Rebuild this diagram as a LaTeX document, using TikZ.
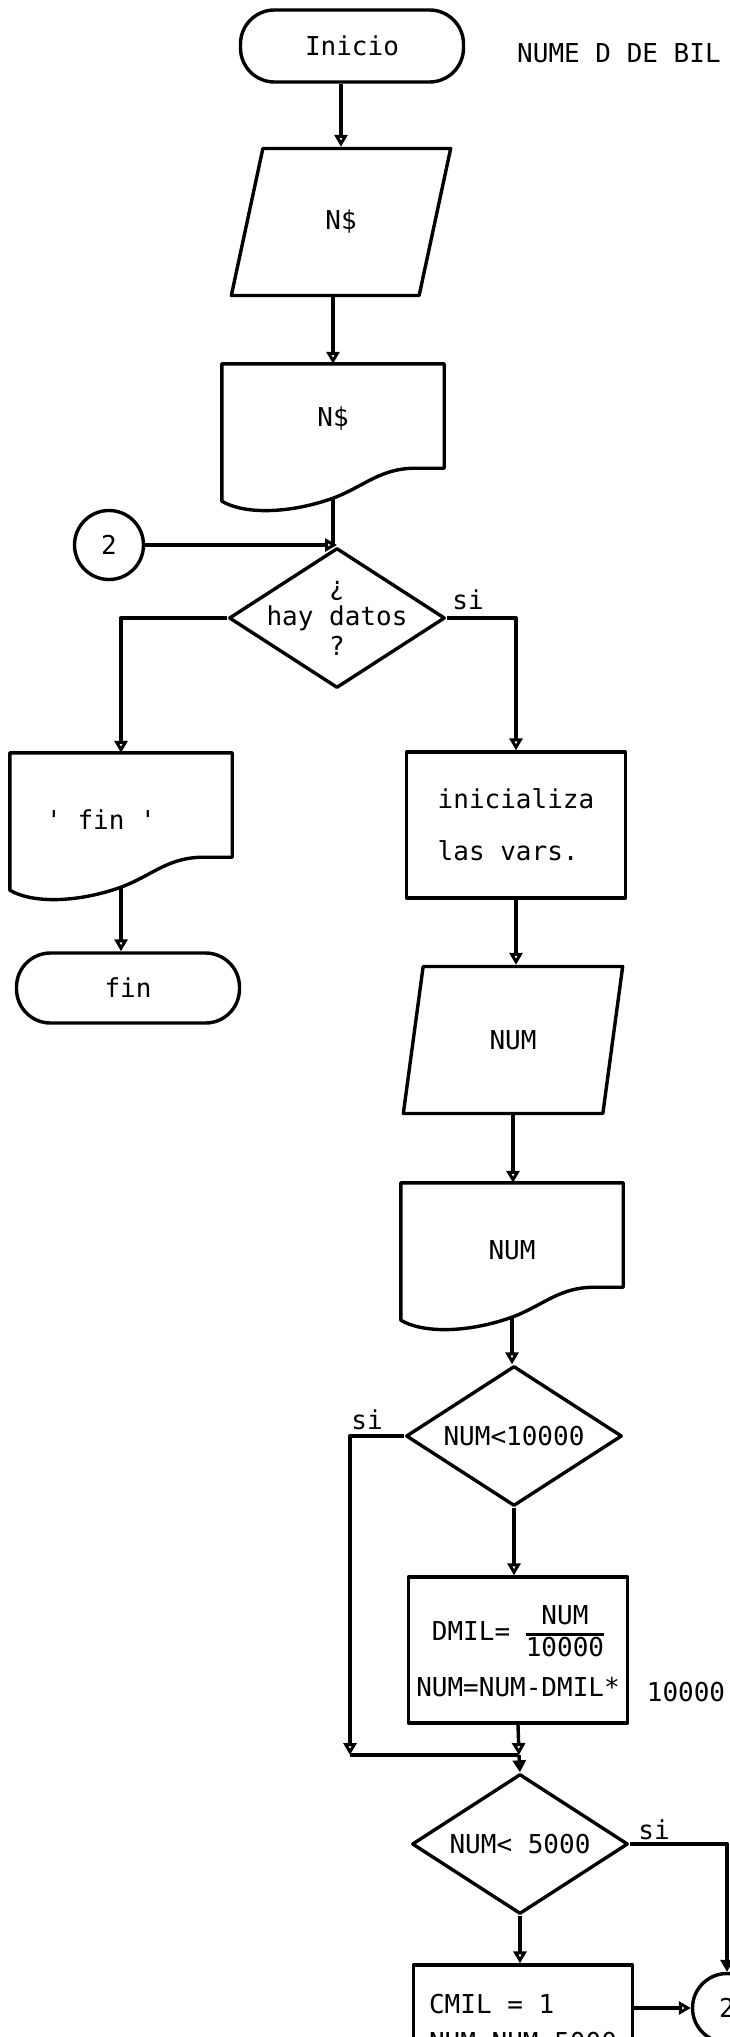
\documentclass[tikz,border=0pt]{standalone}
\usepackage{fontspec}
\setmonofont{DejaVu Sans Mono}
\usetikzlibrary{shapes.geometric, arrows.meta}
\setlength{\arrayrulewidth}{2.5pt}

% wavy bottom of a document box
\newcommand{\docwave}[1]{%
  \draw[ln] (#1.north west) -- (#1.north east) -- ([yshift=30pt]#1.south east)
    -- ([xshift=194pt,yshift=30pt]#1.south west)
    .. controls ([xshift=158pt,yshift=30pt]#1.south west) and ([xshift=143pt,yshift=12pt]#1.south west) .. (#1.south)
    .. controls ([xshift=66pt,yshift=-16pt]#1.south west) and ([xshift=22pt,yshift=-16pt]#1.south west) .. ([yshift=-3pt]#1.south west)
    -- cycle;}

\begin{document}
\begin{tikzpicture}[
    x=1pt, y=1pt,
    ln/.style={line width=3.4pt, line join=round},
    txt/.style={font=\ttfamily\fontsize{26}{30}\selectfont, inner sep=0pt},
    term/.style={txt, ln, draw, rounded corners=34pt, minimum width=223pt, minimum height=72pt},
    io/.style={txt, ln, draw, trapezium, trapezium left angle=75, trapezium right angle=105, trapezium stretches=true, minimum width=220pt, minimum height=147pt},
    doc/.style={txt, minimum width=222pt, minimum height=134pt},
    proc/.style={txt, ln, draw, minimum width=219pt, minimum height=146pt},
    dec/.style={txt, ln, draw, diamond, aspect=1.55, minimum width=216pt, minimum height=140pt},
    conn/.style={txt, ln, draw, circle, minimum size=69pt},
    arr/.style={ln, -{Triangle[open, length=12pt, width=13pt]}},
    arrf/.style={ln, -{Triangle[length=12pt, width=13pt]}},
]
\useasboundingbox (0,0) rectangle (730,-2037);

% Start
\node[term] (ini) at (352,-46) {Inicio};
\node[txt, anchor=west] (title) at (517,-53) {NUME D DE BIL};

\node[io] (ns1) at (341,-222) {N\$};
\node[doc, text depth=28pt] (doc1) at (333,-431) {N\$};
\docwave{doc1}

% Question
\node[conn] (c1) at (109,-545) {2};
\node[dec, label={[txt, align=center]center:{¿\\hay datos\\?}}] (d1) at (337,-618) {};
\node[txt] (si1) at (468,-600) {si};

% End branch
\node[doc] (fin1) at (121,-820) {' fin '\hspace*{40pt}};
\docwave{fin1}
\node[term, minimum height=70pt] (fin2) at (128,-988) {fin};

% Main column
\node[proc, align=left] (ini2) at (516,-825) {inicializa\\[22pt]las vars.};
\node[io] (num1) at (513,-1040) {NUM};
\node[doc] (num2) at (512,-1250) {NUM};
\docwave{num2}
\node[dec] (d2) at (514,-1436) {NUM<10000};
\node[txt] (si2) at (367,-1420) {si};
\node[proc, align=center] (box1) at (518,-1650) {DMIL= \begin{tabular}{@{}c@{}}NUM\\\hline 10000\end{tabular}\\[10pt]NUM=NUM-DMIL*};
\node[txt] (ovr) at (686,-1692) {10000};
\coordinate (lp) at (350,-1755);
\coordinate (jn) at (519,-1755);
\node[dec] (d3) at (520,-1844) {NUM< 5000};
\node[txt] (si3) at (654,-1830) {si};
\node[proc, align=left, text depth=30pt] (box2) at (523,-2038) {CMIL = 1\\[8pt]NUM=NUM-5000};
\node[conn] (c2) at (727,-2008) {2};

% Edges
\draw[arr] (ini.south -| ns1.north) -- (ns1.north);
\draw[arr] (ns1.south -| doc1.north) -- (doc1.north);
\draw[ln] (doc1.south) -- (doc1.south |- d1.north);
\draw[arr] (c1.east) -- (c1.east -| d1.north);
\draw[arr] (d1.west) -| (fin1.north);
\draw[arr] (d1.east) -| (ini2.north);
\draw[arr] (fin1.south) -- (fin1.south |- fin2.north);
\draw[arr] (ini2.south) -- (ini2.south |- num1.north);
\draw[arr] (num1.south) -- (num1.south |- num2.north);
\draw[arr] (num2.south) -- (num2.south |- d2.north);
\draw[arr] (d2.west) -| (lp);
\draw[ln] (lp) -- (jn);
\draw[arr] (d2.south) -- (d2.south |- box1.north);
\draw[arr] (box1.south) -- (jn);
\draw[arrf] (jn) -- (d3.north);
\draw[arr] (d3.south) -- (d3.south |- box2.north);
\draw[arrf] (d3.east) -| (c2.north);
\draw[arr] (box2.east |- c2.west) -- (c2.west);

\end{tikzpicture}
\end{document}
